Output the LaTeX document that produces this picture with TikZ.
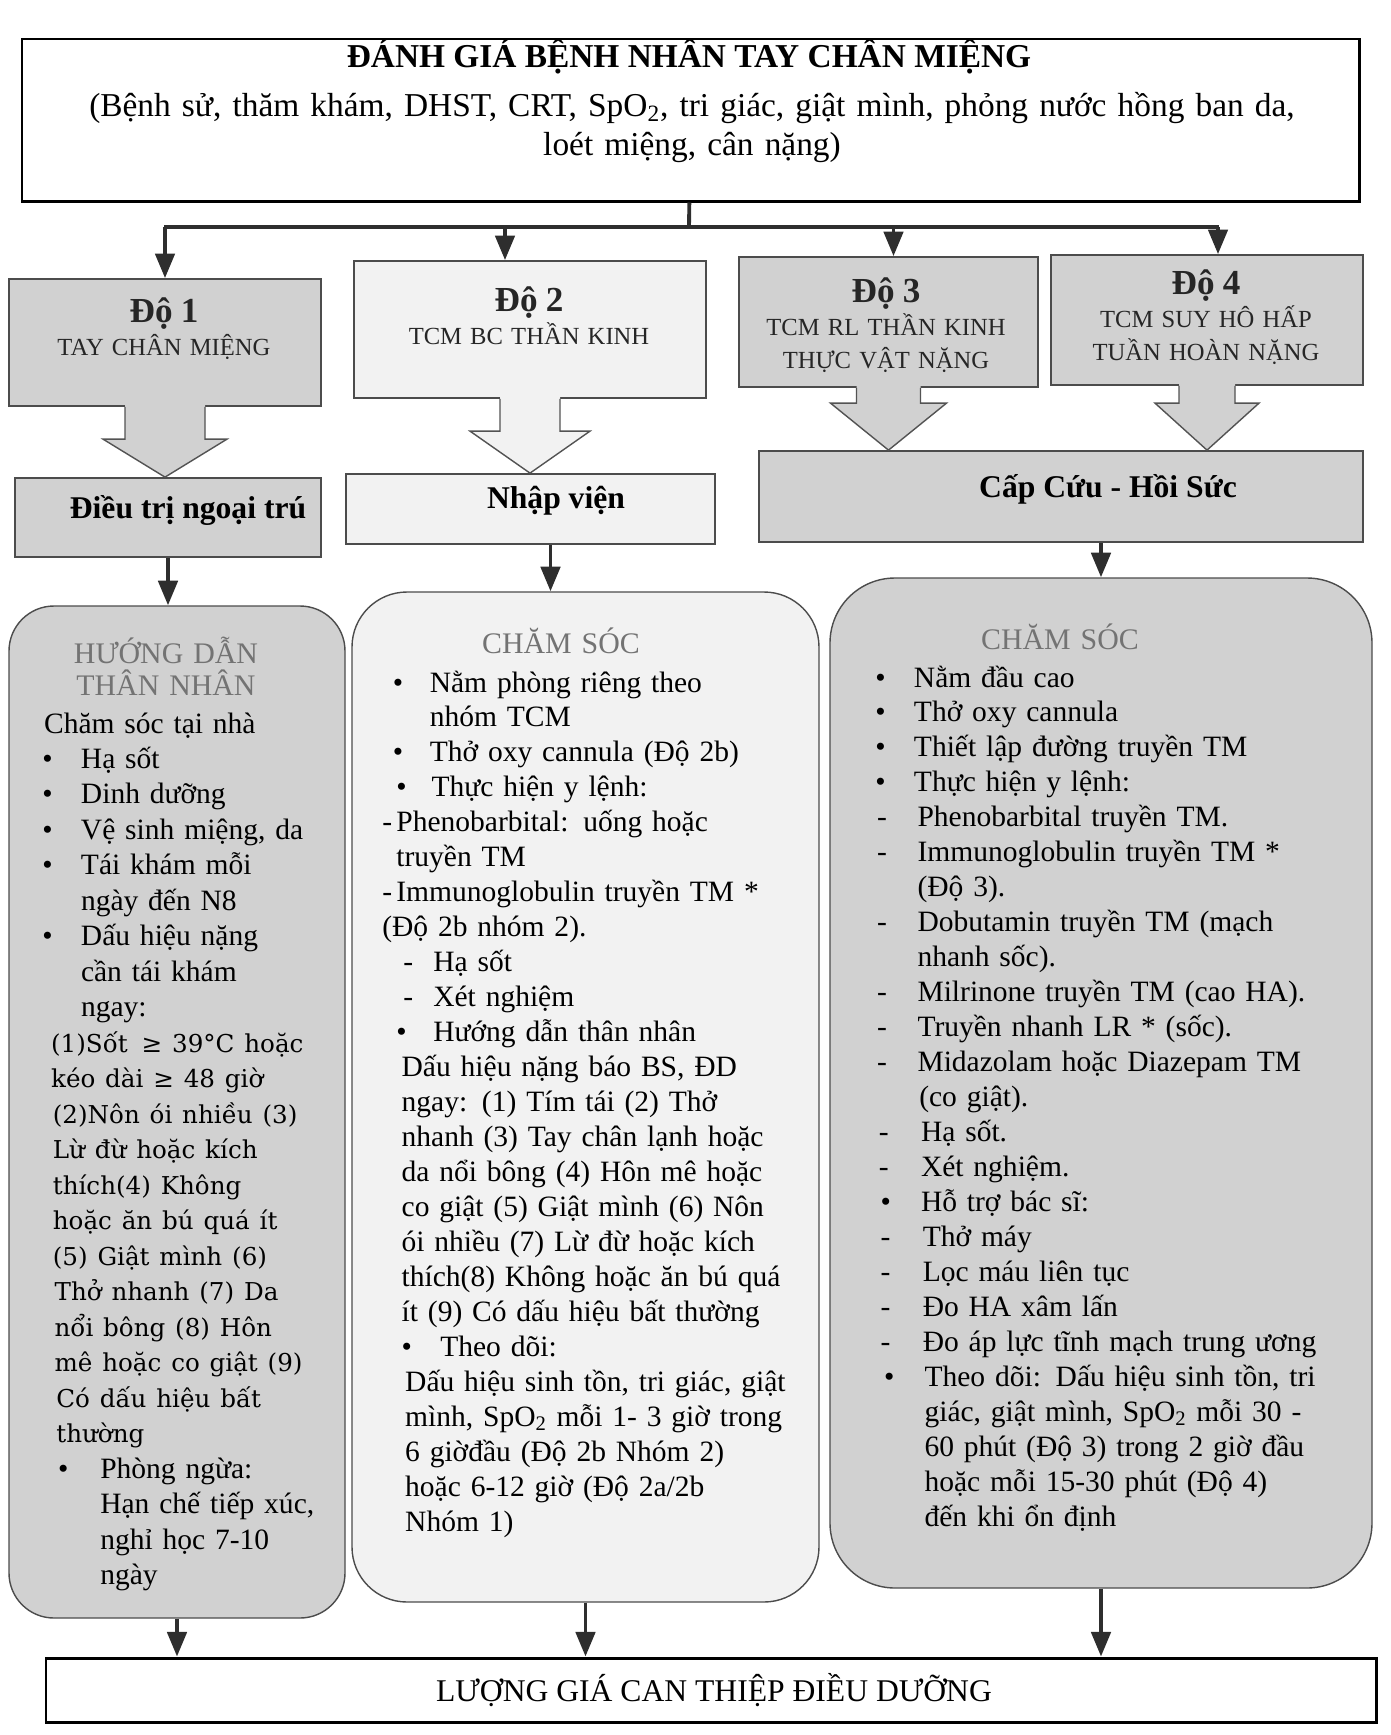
\documentclass[tikz,border=0pt]{standalone}
\usepackage{fontspec}
\setmainfont{Liberation Serif}
\newfontfamily\cambria{DejaVu Serif}
\usetikzlibrary{arrows.meta,calc,fit}

\definecolor{boxgray}{gray}{0.82}
\definecolor{specks}{gray}{0.95}
\definecolor{edge}{gray}{0.30}
\definecolor{ink}{gray}{0.18}
\definecolor{fade}{gray}{0.45}

\newcommand{\itm}[2]{\makebox[#2][l]{\hspace*{#1}\textbullet}}
\newcommand{\dsh}[2]{\makebox[#2][l]{\hspace*{#1}-}}
\newcommand{\ind}[1]{\hspace*{#1}}
\newcommand{\dobig}{\fontsize{20}{19}\selectfont\bfseries}

\tikzset{
  topframe/.style={draw=black, line width=1.7pt, fill=white},
  dobox/.style={draw=edge, line width=1pt, fill=boxgray},
  dobox2/.style={dobox, fill=specks},
  carebox/.style={dobox, line width=0.8pt, rounded corners=0.9cm},
  carebox2/.style={carebox, fill=specks},
  link/.style={draw=ink, line width=2.2pt},
  arr/.style={link, -{Triangle[length=14pt,width=11pt]}},
  blockarr/.style={draw=gray!65!black, line width=0.8pt},
  ttltxt/.style={anchor=base, font=\fontsize{19}{22}\selectfont\bfseries},
  subtxt/.style={anchor=base, align=center, text width=25cm, font=\fontsize{19}{22.2}\selectfont},
  dotxt/.style={anchor=base, align=center, text width=6cm, text=black!85, font=\fontsize{14}{19}\selectfont},
  steptxt/.style={anchor=base, font=\fontsize{18}{20}\selectfont\bfseries},
  headtxt/.style={anchor=base, align=center, text width=6cm, text=fade, font=\fontsize{17}{18.7}\selectfont},
  listtxt/.style={anchor=base west, align=left, text width=9cm, font=\fontsize{16.8}{19.9}\selectfont},
  bottxt/.style={anchor=base, font=\fontsize{18}{20}\selectfont}
}

\begin{document}
\begin{tikzpicture}[x=0.02cm, y=-0.02cm, every node/.style={inner sep=0pt}]
    \useasboundingbox (0,0) rectangle (1391,1735);

    \node[topframe, fit={(22,39) (1359,201)}] (top) {};
    \node[ttltxt] (ttl) at (689,67) {ĐÁNH GIÁ BỆNH NHÂN TAY CHÂN MIỆNG};
    \node[subtxt] (sub) at (692,116) {(Bệnh sử, thăm khám, DHST, CRT, SpO\textsubscript{2}, tri giác, giật mình, phỏng nước hồng ban da,\\loét miệng, cân nặng)};

    \node[dobox,  fit={(9,279) (321,406)}]    (d1) {};
    \node[dobox2, fit={(354,261) (706,398)}]  (d2) {};
    \node[dobox,  fit={(739,257) (1038,387)}] (d3) {};
    \node[dobox,  fit={(1051,255) (1363,385)}] (d4) {};

    \node[dobox,  fit={(15,478) (321,557)}]   (o1) {};
    \node[dobox2, fit={(346,474) (715,544)}]  (o2) {};
    \node[dobox,  fit={(759,451) (1363,542)}] (o3) {};

    \foreach \from/\to/\col/\sw/\hw/\hl in
      {d1/o1/boxgray/40/62/38, d2/o2/specks/30/60/42,
       d3/o3/boxgray/32/58/47, d4/o3/boxgray/28/52/47}
    {
      \coordinate (tip) at (\from.south |- \to.north);
      \coordinate (base) at (\from.south);
      \fill[\col] ($(base)+(-\sw,-3)$) -- ($(tip)+(-\sw,-\hl)$) -- ($(tip)+(-\hw,-\hl)$) -- (tip)
        -- ($(tip)+(\hw,-\hl)$) -- ($(tip)+(\sw,-\hl)$) -- ($(base)+(\sw,-3)$) -- cycle;
      \draw[blockarr] ($(base)+(-\sw,0)$) -- ($(tip)+(-\sw,-\hl)$) -- ($(tip)+(-\hw,-\hl)$) -- (tip)
        -- ($(tip)+(\hw,-\hl)$) -- ($(tip)+(\sw,-\hl)$) -- ($(base)+(\sw,0)$);
    }

    \node[dotxt] (t1) at (164,322)  {{\dobig Độ 1}\\TAY CHÂN MIỆNG};
    \node[dotxt] (t2) at (529,311)  {{\dobig Độ 2}\\TCM BC THẦN KINH};
    \node[dotxt] (t3) at (886,302)  {{\dobig Độ 3}\\TCM RL THẦN KINH\\THỰC VẬT NẶNG};
    \node[dotxt] (t4) at (1206,294) {{\dobig Độ 4}\\TCM SUY HÔ HẤP\\TUẦN HOÀN NẶNG};

    \node[steptxt] (u1) at (188,518)  {Điều trị ngoại trú};
    \node[steptxt] (u2) at (556,508)  {Nhập viện};
    \node[steptxt] (u3) at (1108,497) {Cấp Cứu - Hồi Sức};

    \node[carebox,  fit={(9,606) (345,1618)}] (c1) {};
    \node[carebox2, rounded corners=1.1cm, fit={(352,592) (819,1602)}] (c2) {};
    \node[carebox,  rounded corners=1.3cm, fit={(830,578) (1372,1588)}] (c3) {};

    \node[headtxt] (h1) at (166,663)  {HƯỚNG DẪN\\THÂN NHÂN};
    \node[headtxt] (h2) at (561,653)  {CHĂM SÓC};
    \node[headtxt] (h3) at (1060,649) {CHĂM SÓC};

    \node[listtxt, font=\fontsize{16.8}{20.2}\selectfont] (l1) at (42,733) {%
      \ind{1pt}Chăm sóc tại nhà\\
      \itm{0pt}{22pt}Hạ sốt\\
      \itm{0pt}{22pt}Dinh dưỡng\\
      \itm{0pt}{22pt}Vệ sinh miệng, da\\
      \itm{0pt}{22pt}Tái khám mỗi\\
      \ind{22pt}ngày đến N8\\
      \itm{0pt}{22pt}Dấu hiệu nặng\\
      \ind{22pt}cần tái khám\\
      \ind{22pt}ngay:\\
      {\cambria\fontsize{14}{20.2}\selectfont
      \ind{5pt}(1)Sốt \,≥ 39°C hoặc\\
      \ind{5pt}kéo dài ≥ 48 giờ\\
      \ind{6pt}(2)Nôn ói nhiều (3)\\
      \ind{6pt}Lừ đừ hoặc kích\\
      \ind{6pt}thích(4) Không\\
      \ind{6pt}hoặc ăn bú quá ít\\
      \ind{6pt}(5) Giật mình (6)\\
      \ind{7pt}Thở nhanh (7) Da\\
      \ind{7pt}nổi bông (8) Hôn\\
      \ind{7pt}mê hoặc co giật (9)\\
      \ind{8pt}Có dấu hiệu bất\\
      \ind{8pt}thường\\}
      \itm{9pt}{33pt}Phòng ngừa:\\
      \ind{33pt}Hạn chế tiếp xúc,\\
      \ind{33pt}nghỉ học 7-10\\
      \ind{33pt}ngày};

    \node[listtxt] (l2) at (382,692) {%
      \itm{6pt}{27pt}Nằm phòng riêng theo\\
      \ind{27pt}nhóm TCM\\
      \itm{6pt}{27pt}Thở oxy cannula (Độ 2b)\\
      \itm{8pt}{28pt}Thực hiện y lệnh:\\
      \dsh{0pt}{8pt}Phenobarbital: uống hoặc\\
      \ind{8pt}truyền TM\\
      \dsh{0pt}{8pt}Immunoglobulin truyền TM *\\
      (Độ 2b nhóm 2).\\
      \dsh{12pt}{29pt}Hạ sốt\\
      \dsh{12pt}{29pt}Xét nghiệm\\
      \itm{8pt}{29pt}Hướng dẫn thân nhân\\
      \ind{11pt}Dấu hiệu nặng báo BS, ĐD\\
      \ind{11pt}ngay: (1) Tím tái (2) Thở\\
      \ind{11pt}nhanh (3) Tay chân lạnh hoặc\\
      \ind{11pt}da nổi bông (4) Hôn mê hoặc\\
      \ind{11pt}co giật (5) Giật mình (6) Nôn\\
      \ind{11pt}ói nhiều (7) Lừ đừ hoặc kích\\
      \ind{11pt}thích(8) Không hoặc ăn bú quá\\
      \ind{11pt}ít (9) Có dấu hiệu bất thường\\
      \itm{11pt}{33pt}Theo dõi:\\
      \ind{13pt}Dấu hiệu sinh tồn, tri giác, giật\\
      \ind{13pt}mình, SpO\textsubscript{2} mỗi 1- 3 giờ trong\\
      \ind{13pt}6 giờđầu (Độ 2b Nhóm 2)\\
      \ind{13pt}hoặc 6-12 giờ (Độ 2a/2b\\
      \ind{13pt}Nhóm 1)};

    \node[listtxt] (l3) at (875,687) {%
      \itm{0pt}{22pt}Nằm đầu cao\\
      \itm{0pt}{22pt}Thở oxy cannula\\
      \itm{0pt}{22pt}Thiết lập đường truyền TM\\
      \itm{0pt}{22pt}Thực hiện y lệnh:\\
      \dsh{1pt}{24pt}Phenobarbital truyền TM.\\
      \dsh{1pt}{24pt}Immunoglobulin truyền TM *\\
      \ind{24pt}(Độ 3).\\
      \dsh{1pt}{24pt}Dobutamin truyền TM (mạch\\
      \ind{24pt}nhanh sốc).\\
      \dsh{1pt}{24pt}Milrinone truyền TM (cao HA).\\
      \dsh{1pt}{24pt}Truyền nhanh LR * (sốc).\\
      \dsh{1pt}{24pt}Midazolam hoặc Diazepam TM\\
      \ind{25pt}(co giật).\\
      \dsh{2pt}{26pt}Hạ sốt.\\
      \dsh{2pt}{26pt}Xét nghiệm.\\
      \itm{3pt}{26pt}Hỗ trợ bác sĩ:\\
      \dsh{3pt}{27pt}Thở máy\\
      \dsh{3pt}{27pt}Lọc máu liên tục\\
      \dsh{3pt}{27pt}Đo HA xâm lấn\\
      \dsh{3pt}{27pt}Đo áp lực tĩnh mạch trung ương\\
      \itm{5pt}{28pt}Theo dõi: Dấu hiệu sinh tồn, tri\\
      \ind{28pt}giác, giật mình, SpO\textsubscript{2} mỗi 30 -\\
      \ind{28pt}60 phút (Độ 3) trong 2 giờ đầu\\
      \ind{28pt}hoặc mỗi 15-30 phút (Độ 4)\\
      \ind{28pt}đến khi ổn định};

    \node[topframe, fit={(46,1658) (1376,1722)}] (bot) {};
    \node[bottxt] (btx) at (714,1701) {LƯỢNG GIÁ CAN THIỆP ĐIỀU DƯỠNG};

    \coordinate (bar) at (689,227);
    \draw[link] (top) -- (bar);
    \draw[link] ($(bar -| d1.north)+(-1,0)$) -- ($(bar -| d4.north)+(12,0)$);
    \foreach \nd/\dx in {d1/0, d2/-25, d3/5, d4/11}
      \draw[arr] ($(bar -| \nd.north)+(\dx,0)$) -- ($(\nd.north)+(\dx,0)$);

    \draw[arr] (o1.south) -- (o1.south |- c1.north);
    \draw[arr] ($(o2.south)+(20,0)$) -- ($(o2.south |- c2.north)+(20,0)$);
    \draw[arr] (o3.south -| c3.north) -- (c3.north);
    \foreach \nd in {c1,c2,c3}
      \draw[arr] (\nd.south) -- (\nd.south |- bot.north);
\end{tikzpicture}
\end{document}
